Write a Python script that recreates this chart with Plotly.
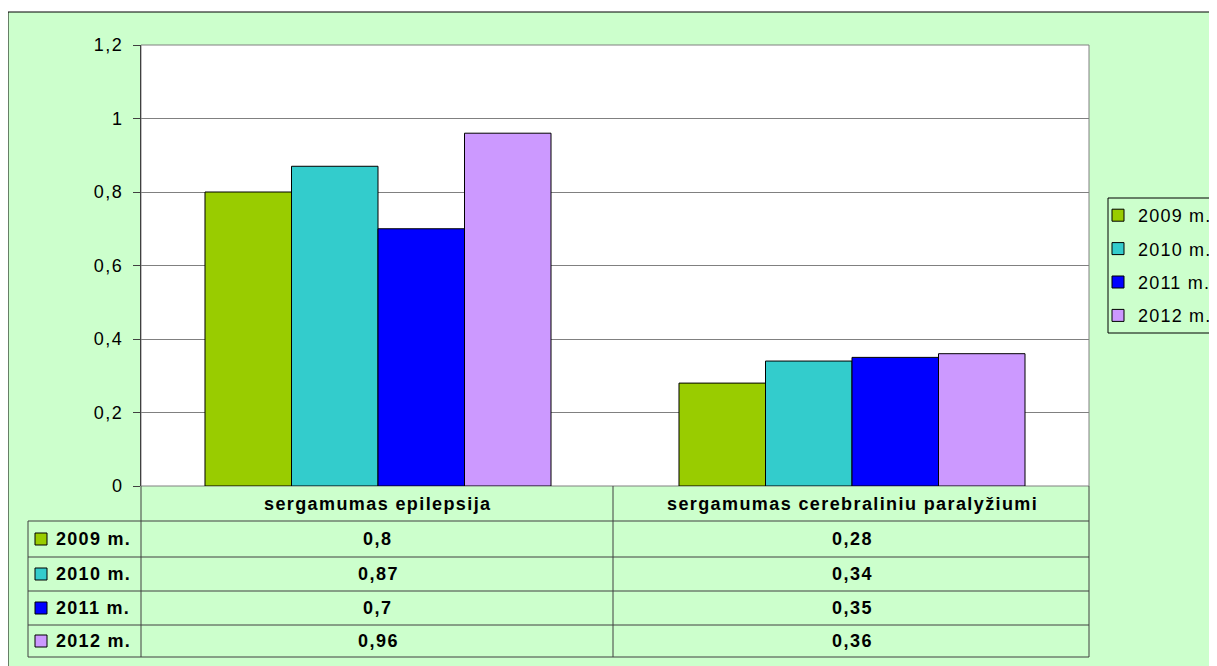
import plotly.graph_objects as go

categories = ["sergamumas epilepsija", "sergamumas cerebraliniu paralyžiumi"]
series_names = ["2009 m.", "2010 m.", "2011 m.", "2012 m."]
values_2009 = [0.8, 0.28]
values_2010 = [0.87, 0.34]
values_2011 = [0.7, 0.35]
values_2012 = [0.96, 0.36]
series_values = [values_2009, values_2010, values_2011, values_2012]
colors = ["#99CC00", "#33CCCC", "#0000FF", "#CC99FF"]
y_ticks = [0, 0.2, 0.4, 0.6, 0.8, 1.0, 1.2]

FONT = "Arial, Liberation Sans, sans-serif"
OFF = 8  # page body margin in the browser
W_PAGE, H_PAGE = 1217 - OFF, 666 - OFF
PL, PR, PT, PB = 141 - OFF, 1089 - OFF, 45 - OFF, 486 - OFF
PW, PH = PR - PL, PB - PT


def px(x):
    # x given in window pixels
    return (x - OFF - PL) / PW


def py(y):
    return (PB - (y - OFF)) / PH


def fmt(v):
    return ("%g" % v).replace(".", ",")


def sp(t, ls=1.3, bold=False):
    s = "<span style='letter-spacing:%spx'>%s</span>" % (ls, t)
    return "<b>%s</b>" % s if bold else s


fig = go.Figure()
for name, vals, col in zip(series_names, series_values, colors):
    fig.add_trace(go.Bar(
        x=categories, y=vals, name=sp(name, 1.2), legendgroup=name,
        marker=dict(color=col, line=dict(color="black", width=1)),
        hoverinfo="skip",
    ))

shapes = []
# page background and plot area
shapes.append(dict(type="rect", xref="paper", yref="paper",
                   x0=px(8), x1=px(1240), y0=py(12), y1=py(690),
                   fillcolor="#CCFFCC", line=dict(color="black", width=1), layer="below"))
shapes.append(dict(type="rect", xref="paper", yref="paper",
                   x0=0, x1=1, y0=0, y1=1,
                   fillcolor="white", line=dict(color="#808080", width=1), layer="below"))
# legend box
shapes.append(dict(type="rect", xref="paper", yref="paper",
                   x0=px(1108), x1=px(1240), y0=py(198), y1=py(333),
                   fillcolor="#CCFFCC", line=dict(color="black", width=1), layer="below"))

# data table grid
line_col = "#404040"
row_edges = [521, 557, 591, 625, 657]
header_top = 486
table_left = 28
col_edges = [141, 613, 1089]
for y in row_edges:
    shapes.append(dict(type="line", xref="paper", yref="paper",
                       x0=px(table_left), x1=px(1089), y0=py(y), y1=py(y),
                       line=dict(color=line_col, width=1)))
shapes.append(dict(type="line", xref="paper", yref="paper",
                   x0=px(table_left), x1=px(table_left), y0=py(row_edges[0]), y1=py(row_edges[-1]),
                   line=dict(color=line_col, width=1)))
for x in col_edges:
    shapes.append(dict(type="line", xref="paper", yref="paper",
                       x0=px(x), x1=px(x), y0=py(header_top), y1=py(row_edges[-1]),
                       line=dict(color=line_col, width=1)))

annotations = []
# header
for cat in categories:
    annotations.append(dict(x=cat, xref="x", y=py((header_top + row_edges[0]) / 2), yref="paper",
                            text=sp(cat, 1.4, True), showarrow=False,
                            font=dict(family=FONT, size=18, color="black"),
                            xanchor="center", yanchor="middle"))
# rows
for i, (name, vals, col) in enumerate(zip(series_names, series_values, colors)):
    yc = (row_edges[i] + row_edges[i + 1]) / 2
    shapes.append(dict(type="rect", xref="paper", yref="paper",
                       x0=px(35), x1=px(47), y0=py(yc + 6), y1=py(yc - 6),
                       fillcolor=col, line=dict(color="black", width=1)))
    annotations.append(dict(x=px(54), xref="paper", y=py(yc), yref="paper",
                            text=sp(name, 1.3, True), showarrow=False,
                            font=dict(family=FONT, size=18, color="black"),
                            xanchor="left", yanchor="middle"))
    for cat, v in zip(categories, vals):
        annotations.append(dict(x=cat, xref="x", y=py(yc), yref="paper",
                                text=sp(fmt(v), 1.5, True), showarrow=False,
                                font=dict(family=FONT, size=18, color="black"),
                                xanchor="center", yanchor="middle"))

fig.update_layout(
    width=W_PAGE, height=H_PAGE,
    margin=dict(l=PL, r=W_PAGE - PR, t=PT, b=H_PAGE - PB, pad=0, autoexpand=False),
    paper_bgcolor="white", plot_bgcolor="rgba(0,0,0,0)",
    separators=", ",
    barmode="group", bargap=0.27, bargroupgap=0,
    showlegend=True,
    legend=dict(x=px(1098), y=py(197), xanchor="left", yanchor="top",
                bgcolor="rgba(0,0,0,0)", borderwidth=0,
                font=dict(family=FONT, size=18, color="black"),
                tracegroupgap=7, traceorder="grouped"),
    font=dict(family=FONT, color="black"),
    shapes=shapes, annotations=annotations,
)
fig.update_xaxes(showticklabels=False, showline=False, showgrid=False, ticks="")
fig.update_yaxes(range=[0, 1.2], tickvals=y_ticks, ticktext=[sp(fmt(t), 1.5) for t in y_ticks],
                 showgrid=True, gridcolor="#808080", gridwidth=1,
                 showline=True, linecolor=line_col, linewidth=1,
                 ticks="outside", ticklen=7, tickcolor=line_col,
                 zeroline=False, tickfont=dict(family=FONT, size=18, color="black"),
                 ticklabelstandoff=6)

fig.write_html("out.html")
